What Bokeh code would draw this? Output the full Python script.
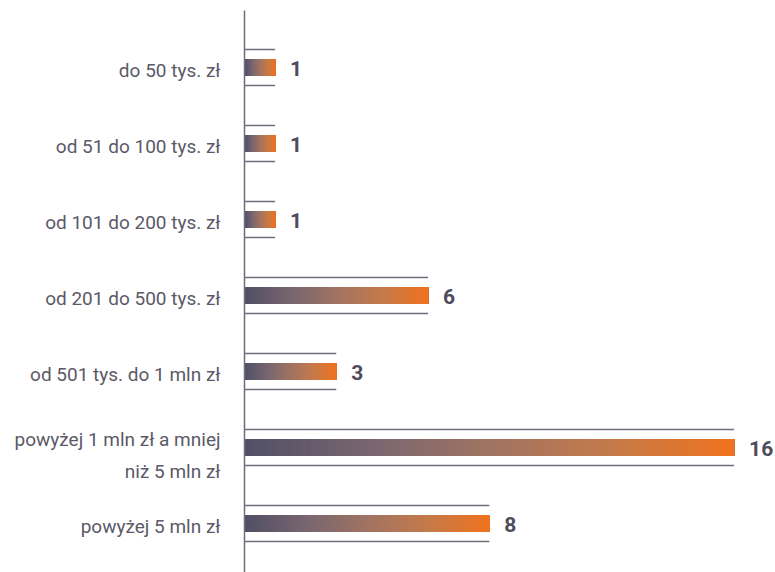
from bokeh.plotting import figure
from bokeh.models import Range1d, ColumnDataSource
from bokeh.core.properties import value
from bokeh.embed import file_html
from bokeh.resources import INLINE

categories = [
    "do 50 tys. zł",
    "od 51 do 100 tys. zł",
    "od 101 do 200 tys. zł",
    "od 201 do 500 tys. zł",
    "od 501 tys. do 1 mln zł",
    "powyżej 1 mln zł a mniej\nniż 5 mln zł",
    "powyżej 5 mln zł",
]
counts = [1, 1, 1, 6, 3, 16, 8]

# gradient colour stops (position, rgb)
STOPS = [
    (0.00, (0x52, 0x50, 0x66)),
    (0.25, (0x78, 0x66, 0x70)),
    (0.50, (0xA0, 0x73, 0x62)),
    (0.75, (0xC4, 0x7A, 0x4A)),
    (1.00, (0xEE, 0x72, 0x1F)),
]
N_STEPS = 60


def grad(t):
    for (p0, c0), (p1, c1) in zip(STOPS[:-1], STOPS[1:]):
        if t <= p1:
            u = (t - p0) / (p1 - p0)
            return "#%02x%02x%02x" % tuple(int(round(a + (b - a) * u)) for a, b in zip(c0, c1))
    return "#%02x%02x%02x" % STOPS[-1][1]


PX_PER_UNIT = 30.6
AXIS_PX = 244
ROW_PX = 76
FIRST_PX = 67
W, H = 775, 572

x0 = -AXIS_PX / PX_PER_UNIT
x1 = (W - AXIS_PX) / PX_PER_UNIT
y_top = -FIRST_PX / ROW_PX
y_bot = (H - FIRST_PX) / ROW_PX

p = figure(width=W, height=H, output_backend="svg", toolbar_location=None,
           x_range=Range1d(x0, x1), y_range=Range1d(y_bot, y_top),
           min_border=0, min_border_left=0, min_border_right=0,
           min_border_top=0, min_border_bottom=0)
p.axis.visible = False
p.grid.visible = False
p.outline_line_color = None
p.background_fill_color = "white"
p.border_fill_color = "white"

ys = list(range(len(categories)))

# gradient bars: overlapping quads, each running to the bar end
lefts, rights, bots, tops, cols = [], [], [], [], []
half_bar = 8.5 / ROW_PX
for i, v in enumerate(counts):
    for k in range(N_STEPS):
        t = k / (N_STEPS - 1)
        lefts.append(v * k / N_STEPS)
        rights.append(v)
        bots.append(i + half_bar)
        tops.append(i - half_bar)
        cols.append(grad(t))
p.quad(left=lefts, right=rights, bottom=bots, top=tops, fill_color=cols, line_color=None)

# thin lines above and below each bar
off = 18 / ROW_PX
seg_x0 = [0] * (2 * len(counts))
seg_x1 = counts + counts
seg_y = [i - off for i in ys] + [i + off for i in ys]
p.segment(x0=seg_x0, x1=seg_x1, y0=seg_y, y1=seg_y, line_color="#6f6d7c", line_width=1.5)

# vertical axis line
p.segment(x0=[0], x1=[0], y0=[(10 - FIRST_PX) / ROW_PX], y1=[y_bot], line_color="#6f6d7c", line_width=1.5)

# category labels
label_offsets = [3 if "\n" not in c else 8 for c in categories]
src = ColumnDataSource(dict(x=[-24 / PX_PER_UNIT] * len(categories), y=ys, t=categories, yo=label_offsets))
p.text(x="x", y="y", text="t", source=src, text_align="right", text_baseline="middle",
       text_font=value("Roboto"), text_font_size="19px", text_color="#5b5967",
       y_offset="yo", text_line_height=1.35)

# value labels
vsrc = ColumnDataSource(dict(x=counts, y=ys, t=[str(c) for c in counts]))
p.text(x="x", y="y", text="t", source=vsrc, text_align="left", text_baseline="middle",
       text_font=value("Roboto"), text_font_style="bold", text_font_size="21px",
       text_color="#4d4b5c", x_offset=15, y_offset=1)

open("out.html", "w").write(file_html(p, INLINE))
